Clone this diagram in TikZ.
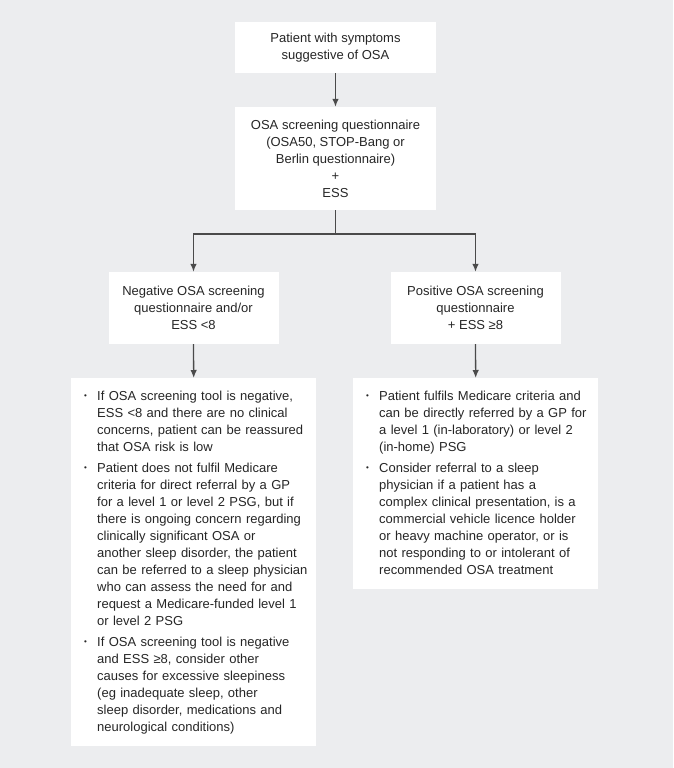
\documentclass[tikz,border=0pt]{standalone}
\usepackage{fontspec}
\setmainfont{Liberation Sans}
\usetikzlibrary{arrows.meta}
\definecolor{bggrey}{HTML}{ECEDEF}
\definecolor{ink}{HTML}{262626}
\definecolor{wire}{HTML}{4A4A4A}
% bullet for the list boxes
\newcommand{\bul}{\makebox[13pt][l]{\fontsize{8}{8}\selectfont\raisebox{1.5pt}{\textbullet}}}
\begin{document}
\begin{tikzpicture}[x=1pt,y=-1pt,
  box/.style={fill=white, text=ink, align=center, inner sep=0pt,
    font=\fontsize{13}{17}\selectfont},
  listbox/.style={fill=white, text=ink, anchor=north west, align=left,
    inner xsep=13pt, inner ysep=10pt, text width=219pt,
    font=\fontsize{13}{17}\selectfont},
  wireline/.style={draw=wire, line width=1.3pt},
  arrow/.style={wireline, -{Latex[length=8pt,width=6.5pt]}}]
\useasboundingbox (0,0) rectangle (673,768);
\fill[bggrey] (0,0) rectangle (673,768);

\node[box, minimum width=201pt, minimum height=51pt] (patient) at (335.5,47.5)
  {Patient with symptoms\\suggestive of OSA};
\node[box, minimum width=201pt, minimum height=103pt] (screen) at (335.5,158.5)
  {OSA screening questionnaire\\(OSA50, STOP-Bang or\\Berlin questionnaire)\\+\\ESS};
\node[box, minimum width=170pt, minimum height=72pt] (negative) at (193.5,308)
  {Negative OSA screening\\questionnaire and/or\\ESS <8};
\node[box, minimum width=170pt, minimum height=72pt] (positive) at (475.5,308)
  {Positive OSA screening\\questionnaire\\+ ESS ≥8};

\node[listbox] (neglist) at (71,378) {%
\begin{tabular}{@{}l@{}l@{}}
\bul & If OSA screening tool is negative,\\
 & ESS <8 and there are no clinical\\
 & concerns, patient can be reassured\\
 & that OSA risk is low\\[4pt]
\bul & Patient does not fulfil Medicare\\
 & criteria for direct referral by a GP\\
 & for a level 1 or level 2 PSG, but if\\
 & there is ongoing concern regarding\\
 & clinically significant OSA or\\
 & another sleep disorder, the patient\\
 & can be referred to a sleep physician\\
 & who can assess the need for and\\
 & request a Medicare-funded level 1\\
 & or level 2 PSG\\[4pt]
\bul & If OSA screening tool is negative\\
 & and ESS ≥8, consider other\\
 & causes for excessive sleepiness\\
 & (eg inadequate sleep, other\\
 & sleep disorder, medications and\\
 & neurological conditions)
\end{tabular}};

\node[listbox] (poslist) at (353,378) {%
\begin{tabular}{@{}l@{}l@{}}
\bul & Patient fulfils Medicare criteria and\\
 & can be directly referred by a GP for\\
 & a level 1 (in-laboratory) or level 2\\
 & (in-home) PSG\\[4pt]
\bul & Consider referral to a sleep\\
 & physician if a patient has a\\
 & complex clinical presentation, is a\\
 & commercial vehicle licence holder\\
 & or heavy machine operator, or is\\
 & not responding to or intolerant of\\
 & recommended OSA treatment
\end{tabular}};

% connectors
\coordinate (split) at (335.5,234);
\draw[arrow] (patient.south) -- (screen.north);
\draw[wireline] (screen.south) -- (split);
\draw[arrow] (split) -| (negative.north);
\draw[arrow] (split) -| (positive.north);
\draw[arrow] (negative.south) -- (neglist.north);
\draw[arrow] (positive.south) -- (poslist.north);
\end{tikzpicture}
\end{document}
